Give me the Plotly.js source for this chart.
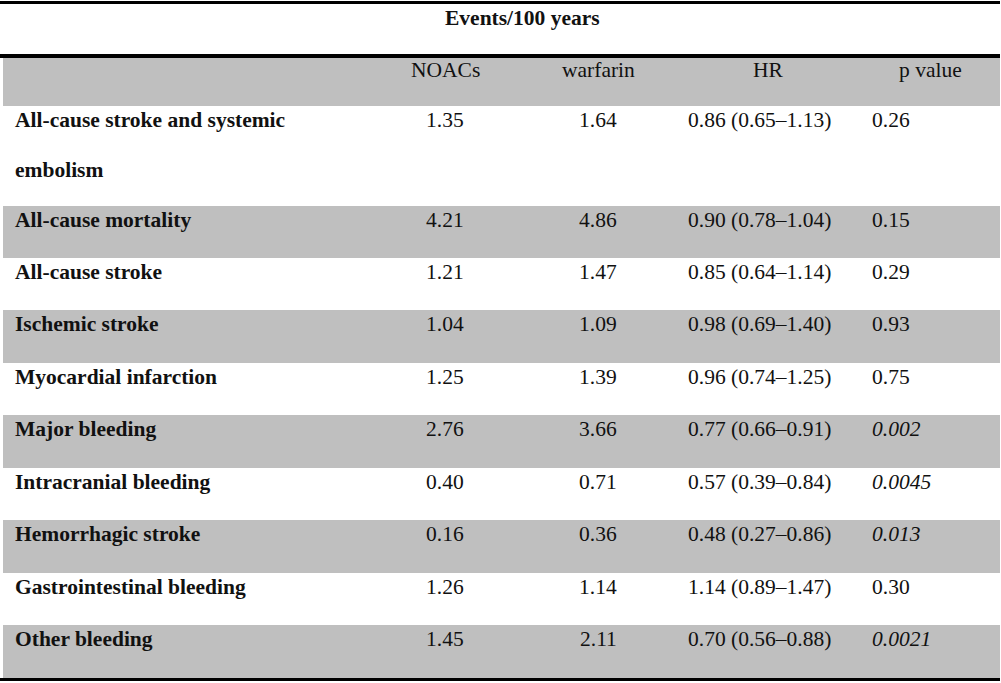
<!DOCTYPE html>
<html><head><meta charset="utf-8">
<script src="https://cdn.plot.ly/plotly-3.0.1.min.js"></script>
<style>html,body{margin:0;padding:0;background:#fff}</style>
</head><body><div id="chart" style="width:1001px;height:683px"></div>
<script>
const title = "Events/100 years";
const headers = ["NOACs", "warfarin", "HR", "p value"];
const categories = [
  "All-cause stroke and systemic\nembolism",
  "All-cause mortality",
  "All-cause stroke",
  "Ischemic stroke",
  "Myocardial infarction",
  "Major bleeding",
  "Intracranial bleeding",
  "Hemorrhagic stroke",
  "Gastrointestinal bleeding",
  "Other bleeding"
];
const noacs    = [1.35, 4.21, 1.21, 1.04, 1.25, 2.76, 0.40, 0.16, 1.26, 1.45];
const warfarin = [1.64, 4.86, 1.47, 1.09, 1.39, 3.66, 0.71, 0.36, 1.14, 2.11];
const hr       = [0.86, 0.90, 0.85, 0.98, 0.96, 0.77, 0.57, 0.48, 1.14, 0.70];
const hrLow    = [0.65, 0.78, 0.64, 0.69, 0.74, 0.66, 0.39, 0.27, 0.89, 0.56];
const hrHigh   = [1.13, 1.04, 1.14, 1.40, 1.25, 0.91, 0.84, 0.86, 1.47, 0.88];
const pValues  = ["0.26", "0.15", "0.29", "0.93", "0.75", "0.002", "0.0045", "0.013", "0.30", "0.0021"];

// layout geometry (pixels)
const W = 1001, H = 683;
const rowEdges = [106, 206, 258, 310, 363, 415, 468, 520, 573, 625, 678];
const FONT = "Liberation Serif, Times New Roman, serif";
const FS = 21.5;
const GRAY = "#bfbfbf";

const shapes = [];
const ann = [];
function rect(y0, y1) {
  shapes.push({type: "rect", xref: "x", yref: "y", x0: 3, x1: 1000, y0: y0, y1: y1,
    fillcolor: GRAY, line: {width: 0}, layer: "below"});
}
function hline(y, w) {
  shapes.push({type: "line", xref: "x", yref: "y", x0: 0, x1: 1000, y0: y, y1: y,
    line: {color: "#000", width: w}});
}
function txt(x, y, s, anchor, bold) {
  ann.push({x: x, y: y, xref: "x", yref: "y", text: bold ? "<b>" + s + "</b>" : s,
    showarrow: false, xanchor: anchor, yanchor: "middle",
    font: {family: FONT, size: FS, color: "#111"}});
}

// header band
rect(57, 106);
categories.forEach((c, i) => { if (i % 2 === 1) rect(rowEdges[i], rowEdges[i + 1]); });
hline(2.5, 3);
hline(56, 4);
hline(679.5, 3);

txt(522, 18, title, "center", true);
txt(445, 70, headers[0], "center");
txt(598, 70, headers[1], "center");
txt(768, 70, headers[2], "center");
txt(930, 70, headers[3], "center");

categories.forEach((c, i) => {
  const yTop = rowEdges[i] + 14;
  c.split("\n").forEach((line, k) => txt(13, yTop + k * 50, line, "left", true));
  txt(445, yTop, noacs[i].toFixed(2), "center");
  txt(598, yTop, warfarin[i].toFixed(2), "center");
  txt(686, yTop, hr[i].toFixed(2) + " (" + hrLow[i].toFixed(2) + "\u2013" + hrHigh[i].toFixed(2) + ")", "left");
  const p = pValues[i];
  txt(870, yTop, parseFloat(p) < 0.05 ? "<i>" + p + "</i>" : p, "left");
});

Plotly.newPlot("chart", [], {
  width: W, height: H,
  margin: {l: 0, r: 0, t: 0, b: 0},
  paper_bgcolor: "#fff", plot_bgcolor: "#fff",
  xaxis: {range: [0, W], visible: false, fixedrange: true},
  yaxis: {range: [H, 0], visible: false, fixedrange: true},
  shapes: shapes, annotations: ann, showlegend: false
}, {displayModeBar: false, staticPlot: true});
</script></body></html>
